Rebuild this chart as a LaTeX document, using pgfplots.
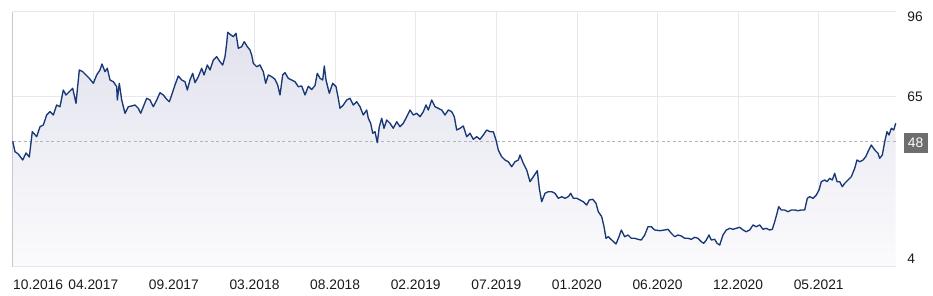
\documentclass[border=0pt]{standalone}
\usepackage{fontspec}
\setmainfont{Liberation Sans}
\usepackage{pgfplots}
\usepackage{pgfplotstable}
\pgfplotsset{compat=1.18}
\definecolor{lineblue}{RGB}{24,56,118}
\definecolor{gridgray}{RGB}{232,232,236}
\definecolor{leftgray}{RGB}{200,200,204}
\definecolor{dashgray}{RGB}{180,180,184}
\definecolor{boxgray}{RGB}{110,110,110}
\definecolor{filltop}{RGB}{226,226,238}
\definecolor{fillbot}{RGB}{251,251,253}
\definecolor{labtext}{RGB}{25,25,25}
\pgfplotstableread{
x y
0 48.0
2.3 44.07
5.6 43.2
10 40.93
13.3 43.58
16.6 42.07
19.6 51.63
24 49.74
27.3 53.51
30.6 54.16
34 57.94
37.3 59.18
40.6 57.94
44 61.71
47.3 61.07
50.6 67.38
53.3 65.49
56.6 66.74
60 68.02
63.3 62.36
66.6 74.94
70 74.29
73.3 73.05
76.6 71.8
80.6 69.91
84 73.05
87.3 74.94
89.3 77.2
92.3 74.29
94.6 75.58
97.3 71.16
100.6 70.52
104 68.63
104.6 63.6
106.6 69.91
109 63.6
112.3 58.58
115.6 61.07
119 61.34
122.3 61.71
125.6 60.47
128 58.58
130.6 61.07
134 64.24
137.3 63.6
140.6 61.07
144 63.6
147.3 66.36
150.6 65.49
154 63.87
156.6 62.96
159 65.49
162.3 69.27
165.6 72.67
169 71.16
172.3 70.52
174.6 67.38
177.3 71.16
180 73.69
182.3 70.14
185.6 72.4
189 75.58
191.3 73.05
194.6 76.83
197.3 74.94
200.6 78.71
204 79.96
207.3 78.07
210 76.83
212.3 79.96
214 85.02
215 89.18
217.3 88.42
220.6 87.52
223.3 88.8
225.6 83.13
229 83.74
231.6 85.63
234.6 83.74
237.3 82.49
239 80.6
240.6 77.47
244 76.18
247.3 76.83
250.6 74.29
253 69.91
255.6 73.05
259 72.4
262.3 71.42
265 69.27
267.3 65.49
270 73.05
272.3 73.92
275.6 71.8
279 71.16
282.3 70.52
285.6 68.63
289 68.89
292.3 65.49
295.6 68.78
299 67.57
302.3 69.08
304.6 73.69
307.3 71.8
310 71.16
311.6 76.45
313.3 71.16
316.6 66.13
320 69.91
323.3 68.63
325.6 64.24
327.3 60.47
330.6 61.71
334 63.6
337.3 64.24
340.6 61.71
344 62.96
347.3 61.07
350.6 57.94
354 59.82
355.6 56.69
358 54.8
360 51.02
362.3 51.63
364.6 47.47
366.6 53.51
369 56.69
371.3 52.91
374 56.05
377.3 54.8
380.6 52.91
384 55.4
387.3 53.51
390.6 54.8
394 57.29
397.3 59.82
400.6 57.94
404 58.58
407.3 57.29
410.6 59.18
413.3 61.71
415.6 59.82
419 63.6
422.3 61.07
425.6 60.47
429 59.82
432.3 57.94
435.6 59.82
439 59.18
441.6 57.29
444 52.27
447.3 52.91
450.6 53.78
454 49.74
457.3 51.02
460.6 48.75
464 49.74
467.3 48.75
470.6 50.38
474 52.27
477.3 51.63
480.6 51.63
483.3 48.49
485.6 44.71
489 42.18
492.3 40.93
495.6 40.29
499 38.4
502.3 40.29
505.6 40.93
507.3 42.82
510.6 39.69
514 37.16
517.3 32.74
520.6 34.62
524.6 36.89
526.6 30.24
529 25.18
532.3 28.35
535.6 28.96
539 28.96
542.3 28.35
545.6 26.46
549 27.07
552.3 26.46
555.6 27.07
558 28.35
560.6 26.46
564 26.46
567.3 25.82
570.6 25.18
574 23.93
576.6 25.82
580 26.09
583.3 24.58
585.6 21.4
589 19.51
591.3 15.73
593.3 11.35
595.6 11.96
599 10.71
603.3 9.2
606.3 11.96
608.6 14.49
612 11.96
615.3 12.6
618.6 11.35
622 11.35
625.3 10.97
628.6 10.71
632 12.6
635.3 15.73
638.6 15.73
642 14.49
647 14.22
652 14.49
655.3 14.75
658.6 13.24
662 11.96
665.3 12.6
668.6 12.22
672 11.35
675.3 11.35
678.6 10.97
682 11.73
685.3 11.35
688.6 10.07
691 9.46
693.6 10.71
696.3 12.6
698.6 10.71
702 10.97
704.3 9.46
707 8.82
710.3 12.6
713.6 14.49
717 15.13
720.3 14.75
723.6 15.13
727 15.51
730.3 14.49
733.6 13.85
737 14.49
740.3 16.38
743.6 15.73
747 16.38
750.3 14.75
753.6 15.13
757 14.49
759.6 14.75
762 17.62
764.3 20.8
766 23.29
768.6 22.04
772 22.04
775.3 21.4
778.6 22.04
782 22.04
785.3 21.78
788.6 22.04
792 22.04
794.6 26.46
797 27.07
800.3 26.46
803.6 27.71
806.3 29.6
808.6 32.74
812 33.38
814.3 32.74
817 34.02
819.6 33.38
822 35.91
824.3 32.74
827 32.74
829.6 30.85
832 32.13
835.3 33.38
838.6 34.62
842 37.8
844.3 40.93
847 40.29
850.3 40.93
853 42.18
855.3 44.07
858.6 46.6
862 44.71
865.3 43.47
867 41.58
869.6 42.82
872 47.85
874.3 51.63
876.3 50.38
878.6 52.91
881 52.27
883 54.8
}\data
\begin{document}
\begin{tikzpicture}
\begin{axis}[
  name=ax,
  scale only axis,
  width=883pt, height=255pt,
  xmin=0, xmax=883,
  ymin=0.62, ymax=96.96,
  axis line style={draw=none},
  major tick length=0pt,
  xtick={80.6,161.2,241.8,322.4,403,483.6,564.2,644.8,725.4,806},
  xticklabels={04.2017,09.2017,03.2018,08.2018,02.2019,07.2019,01.2020,06.2020,12.2020,05.2021},
  extra x ticks={0},
  extra x tick labels={10.2016},
  extra x tick style={grid=none, xticklabel style={anchor=north west, xshift=0.3pt}},
  ytick={65},
  extra y ticks={4,96},
  extra y tick labels={\raisebox{-1.2pt}[\height][\depth]{4},\raisebox{-2.8pt}[\height][\depth]{96}},
  extra y tick style={grid=none},
  yticklabel pos=right,
  xmajorgrids, ymajorgrids,
  major grid style={draw=gridgray, line width=0.7pt},
  xticklabel style={font=\fontsize{13.8}{16}\selectfont, text=labtext, anchor=north, inner sep=0pt, yshift=-13.3pt},
  yticklabel style={font=\fontsize{13.8}{16}\selectfont, text=labtext, anchor=west, inner sep=0pt, xshift=11.5pt},
  /pgf/number format/assume math mode=true,
  clip=false,
]
\addplot[draw=none, top color=filltop, bottom color=fillbot] table[x=x,y=y] {\data} \closedcycle;
\draw[gridgray, line width=0.7pt] (axis cs:0,96.96) -- (axis cs:883,96.96);
\draw[gridgray, line width=0.9pt] (axis cs:0,0.62) -- (axis cs:883,0.62);
\draw[leftgray, line width=0.8pt] (axis cs:0,0.62) -- (axis cs:0,96.96);
\draw[dashgray, line width=0.7pt, dash pattern=on 3pt off 2.5pt] (axis cs:0,48) -- (axis cs:883,48);
\addplot[lineblue, line width=1.35pt, line join=round] table[x=x,y=y] {\data};
\node[fill=boxgray, text=white, anchor=west, minimum width=24pt, minimum height=20pt, inner sep=0pt, font=\fontsize{13.8}{16}\selectfont] at (axis cs:883,48) [xshift=7.6pt, yshift=-1.4pt] {48};
\end{axis}
\pgfresetboundingbox
\path[use as bounding box] (ax.south west) ++(-12.7pt,-28.3pt) rectangle ++(933pt,295pt);
\end{tikzpicture}
\end{document}
